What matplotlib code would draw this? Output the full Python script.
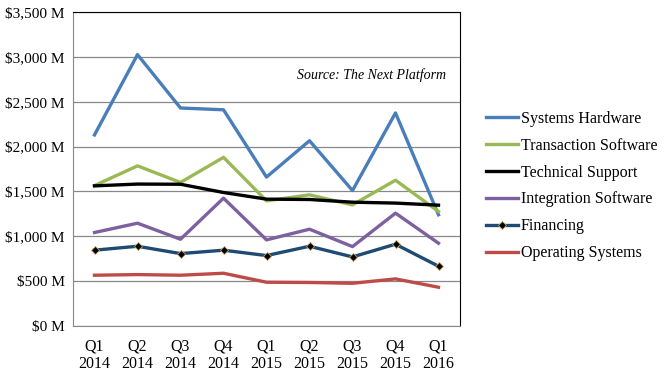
import numpy as np
import matplotlib.pyplot as plt
from matplotlib.ticker import FuncFormatter

quarters = ["Q1\n2014", "Q2\n2014", "Q3\n2014", "Q4\n2014", "Q1\n2015",
            "Q2\n2015", "Q3\n2015", "Q4\n2015", "Q1\n2016"]

systems_hardware = [2130, 3025, 2430, 2410, 1660, 2065, 1510, 2375, 1240]
transaction_software = [1565, 1785, 1600, 1880, 1395, 1462, 1350, 1625, 1276]
technical_support = [1562, 1582, 1580, 1488, 1414, 1410, 1380, 1370, 1347]
integration_software = [1042, 1146, 967, 1425, 960, 1079, 885, 1258, 923]
financing = [845, 889, 807, 845, 785, 889, 770, 912, 666]
operating_systems = [566, 573, 566, 588, 488, 485, 476, 525, 432]

series = [
    ("Systems Hardware", systems_hardware, "#4A7EBB"),
    ("Transaction Software", transaction_software, "#98B954"),
    ("Technical Support", technical_support, "#000000"),
    ("Integration Software", integration_software, "#7D60A0"),
    ("Financing", financing, "#1F4A72"),
    ("Operating Systems", operating_systems, "#BE4B48"),
]

plt.rcParams['font.family'] = ['Liberation Serif', 'DejaVu Serif']

fig = plt.figure(figsize=(6.66, 3.75), dpi=100)
ax = fig.add_axes([73 / 666, 1 - 326 / 375, (460 - 73) / 666, (326 - 12) / 375])

x = np.arange(len(quarters))
for name, vals, col in series:
    if name == "Financing":
        ax.plot(x, vals, color=col, lw=2.4, label=name, marker="D",
                markersize=4, markerfacecolor="black", markeredgecolor="#C8A060",
                markeredgewidth=0.6, zorder=3)
    else:
        ax.plot(x, vals, color=col, lw=2.4, label=name, zorder=3)

ax.set_xlim(-0.5, len(quarters) - 0.5)
ax.set_ylim(0, 3500)
ax.set_yticks(np.arange(0, 3501, 500))
ax.yaxis.set_major_formatter(FuncFormatter(lambda v, p: "${:,.0f} M".format(v)))
ax.set_xticks(x)
ax.set_xticklabels(quarters, fontsize=11.5, linespacing=1.1)
ax.tick_params(axis="y", labelsize=11, length=0, pad=6)
ax.tick_params(axis="x", length=0, pad=9)
ax.grid(axis="y", color="#888888", lw=0.9)
ax.set_axisbelow(True)
for s in ["left", "bottom"]:
    ax.spines[s].set_color("#888888")
for s in ["top", "right"]:
    ax.spines[s].set_color("black")

ax.text(0.965, 0.80, "Source: The Next Platform", transform=ax.transAxes,
        ha="right", va="center", fontsize=10, style="italic")

fig.legend(loc="center left", bbox_to_anchor=(472 / 666, 1 - 186 / 375),
           frameon=False, fontsize=11.5, handlelength=2.0, handletextpad=0.15,
           labelspacing=0.68)

fig.savefig("out.png", dpi=100)
